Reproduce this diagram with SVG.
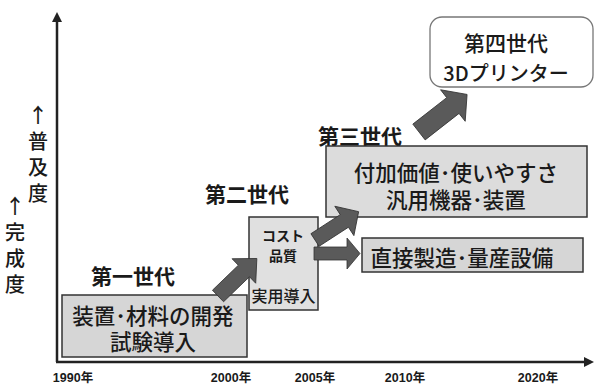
<svg xmlns="http://www.w3.org/2000/svg" width="596" height="385" viewBox="0 0 596 385">
<style>
text{font-family:"Noto Sans CJK JP","Liberation Sans",sans-serif;fill:#1a1a1a;text-anchor:middle;dominant-baseline:central}
.gen{font-size:21px;font-weight:bold}
.box{fill:#d6d6d6;stroke:#333;stroke-width:1.5}
.bt{font-size:21.5px;font-weight:500}
.yr{font-size:12.5px;font-weight:bold;font-family:"Liberation Sans","Noto Sans CJK JP",sans-serif}
.ax{font-size:20px;font-weight:500;writing-mode:vertical-rl;text-orientation:upright;text-anchor:start;letter-spacing:6px}
.arr{fill:#5a5a5a;stroke:#333;stroke-width:0.8}
.axis{stroke:#222;stroke-width:2.5;fill:none}
</style>
<defs>
<marker id="ah" viewBox="0 0 10 10" refX="2" refY="5" markerWidth="4" markerHeight="4" orient="auto">
<path d="M0,0 L10,5 L0,10 Z" fill="#222"/>
</marker>
</defs>
<g id="axes">
<path class="axis" d="M57,362 V20" marker-end="url(#ah)"/>
<path class="axis" d="M56,362 H586" marker-end="url(#ah)"/>
</g>
<g id="ylabels">
<text class="ax" x="38" y="105">↑普及度</text>
<text class="ax" x="15" y="196">↑完成度</text>
</g>
<g id="years">
<text class="yr" x="73" y="378">1990年</text>
<text class="yr" x="231" y="378">2000年</text>
<text class="yr" x="315" y="378">2005年</text>
<text class="yr" x="405" y="378">2010年</text>
<text class="yr" x="538" y="378">2020年</text>
</g>
<g id="gen-labels">
<text class="gen" x="133" y="275">第一世代</text>
<text class="gen" x="247" y="193">第二世代</text>
<text class="gen" x="360" y="135">第三世代</text>
</g>
<g id="node-gen1">
<rect class="box" x="62" y="295" width="185" height="62"/>
<text class="bt" x="153" y="314">装置･材料の開発<tspan x="153" dy="26">試験導入</tspan></text>
</g>
<g id="node-gen2">
<rect class="box" x="249" y="217" width="69" height="93" style="fill:#e0e0e0"/>
<text x="283" y="235" style="font-size:14px;font-weight:bold">コスト<tspan x="283" dy="20">品質</tspan></text>
<text x="283.5" y="295" style="font-size:16px;font-weight:500">実用導入</text>
</g>
<g id="node-gen3a">
<rect class="box" x="326" y="146" width="261" height="71" style="fill:#dcdcdc"/>
<text class="bt" x="456" y="171">付加価値･使いやすさ<tspan x="456" dy="27">汎用機器･装置</tspan></text>
</g>
<g id="node-gen3b">
<rect class="box" x="362" y="238" width="221" height="34"/>
<text class="bt" x="462" y="256">直接製造･量産設備</text>
</g>
<g id="node-gen4">
<rect x="430" y="17" width="163" height="70" rx="12" fill="#fff" stroke="#777" stroke-width="1.3"/>
<text x="506" y="42" style="font-size:21px;font-weight:500">第四世代<tspan x="506" dy="30" style="font-size:20px">3Dプリンター</tspan></text>
</g>
<g id="connectors">
<polygon class="arr" transform="translate(218,296) rotate(-44)" points="0,-8 36,-8 36,-17 54,0 36,17 36,8 0,8"/>
<polygon class="arr" transform="translate(315,240) rotate(-33)" points="0,-7.5 35,-7.5 35,-17.5 52,0 35,17.5 35,7.5 0,7.5"/>
<polygon class="arr" transform="translate(314,253.5)" points="0,-6.5 33,-6.5 33,-15.5 46,0 33,15.5 33,6.5 0,6.5"/>
<polygon class="arr" transform="translate(419,132) rotate(-38)" points="0,-10 43,-10 43,-20 61,0 43,20 43,10 0,10"/>
</g>
</svg>
